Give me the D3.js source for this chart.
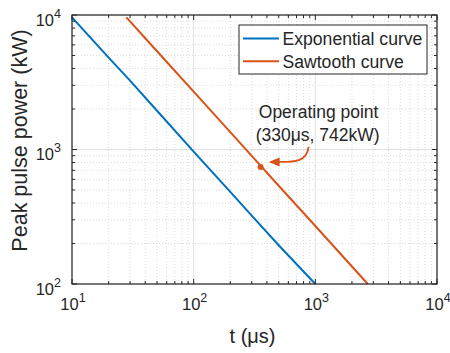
<!DOCTYPE html>
<html>
<head>
<meta charset="utf-8">
<script src="https://cdn.jsdelivr.net/npm/d3@7"></script>
<style>
  body { margin: 0; background: #fff; }
  text { font-family: "Liberation Sans", Arial, sans-serif; fill: #262626; }
</style>
</head>
<body>
<script>
// data
const expT = [10, 20, 30, 50, 100, 200, 300, 500, 1000];
const expP = [9600, 4820, 3250, 1940, 965, 484, 322, 194, 100];
const sawT = [28, 50, 100, 200, 300, 500, 1000, 2000, 2700];
const sawP = [9600, 5380, 2690, 1345, 897, 538, 270, 135, 100];
const seriesNames = ["Exponential curve", "Sawtooth curve"];
const seriesColors = ["#0072BD", "#D95319"];
const opPoint = { t: 355, p: 742 };
const opLabel = ["Operating point", "(330μs, 742kW)"];

const W = 450, H = 353;
const margin = { top: 15, right: 13, bottom: 69, left: 72 },
  width = W - margin.left - margin.right,
  height = H - margin.top - margin.bottom;

const svg = d3.select("body").append("svg")
  .attr("width", W).attr("height", H);

const g = svg.append("g")
  .attr("transform", "translate(" + margin.left + "," + margin.top + ")");

const x = d3.scaleLog().domain([10, 1e4]).range([0, width]);
const y = d3.scaleLog().domain([100, 1e4]).range([height, 0]);

const isMajor = v => Math.abs(Math.log10(v) - Math.round(Math.log10(v))) < 1e-9;
const xTicks = x.ticks(), yTicks = y.ticks();

// grid
g.selectAll(".xminor").data(xTicks.filter(v => !isMajor(v)))
  .enter().append("line")
  .attr("x1", d => x(d)).attr("x2", d => x(d))
  .attr("y1", 0).attr("y2", height)
  .attr("stroke", "#d2d2d2").attr("stroke-width", 0.8).attr("stroke-dasharray", "1,2");
g.selectAll(".yminor").data(yTicks.filter(v => !isMajor(v)))
  .enter().append("line")
  .attr("y1", d => y(d)).attr("y2", d => y(d))
  .attr("x1", 0).attr("x2", width)
  .attr("stroke", "#d2d2d2").attr("stroke-width", 0.8).attr("stroke-dasharray", "1,2");
g.selectAll(".xmajor").data(xTicks.filter(isMajor))
  .enter().append("line")
  .attr("x1", d => x(d)).attr("x2", d => x(d))
  .attr("y1", 0).attr("y2", height)
  .attr("stroke", "#e0e0e0").attr("stroke-width", 1);
g.selectAll(".ymajor").data(yTicks.filter(isMajor))
  .enter().append("line")
  .attr("y1", d => y(d)).attr("y2", d => y(d))
  .attr("x1", 0).attr("x2", width)
  .attr("stroke", "#e0e0e0").attr("stroke-width", 1);

// curves
const line = d3.line().x(d => x(d[0])).y(d => y(d[1]));
const series = [d3.zip(expT, expP), d3.zip(sawT, sawP)];
g.selectAll(".curve").data(series)
  .enter().append("path")
  .attr("d", line)
  .attr("fill", "none")
  .attr("stroke", (d, i) => seriesColors[i])
  .attr("stroke-width", 2);

// axes box with inward ticks
const tickLen = v => isMajor(v) ? 5 : 3;
const axisCol = "#262626";
g.append("rect").attr("width", width).attr("height", height)
  .attr("fill", "none").attr("stroke", axisCol).attr("stroke-width", 1.2);
xTicks.forEach(v => {
  g.append("line").attr("x1", x(v)).attr("x2", x(v)).attr("y1", height).attr("y2", height - tickLen(v))
    .attr("stroke", axisCol).attr("stroke-width", 1);
  g.append("line").attr("x1", x(v)).attr("x2", x(v)).attr("y1", 0).attr("y2", tickLen(v))
    .attr("stroke", axisCol).attr("stroke-width", 1);
});
yTicks.forEach(v => {
  g.append("line").attr("y1", y(v)).attr("y2", y(v)).attr("x1", 0).attr("x2", tickLen(v))
    .attr("stroke", axisCol).attr("stroke-width", 1);
  g.append("line").attr("y1", y(v)).attr("y2", y(v)).attr("x1", width).attr("x2", width - tickLen(v))
    .attr("stroke", axisCol).attr("stroke-width", 1);
});

// tick labels 10^n
function powLabel(sel, v) {
  sel.append("tspan").text("10");
  sel.append("tspan").attr("dy", -8).attr("font-size", 12.5).text(Math.round(Math.log10(v)));
}
xTicks.filter(isMajor).forEach(v => {
  const t = g.append("text").attr("x", x(v) + 1).attr("y", height + 26)
    .attr("text-anchor", "middle").attr("font-size", 16.5);
  powLabel(t, v);
});
yTicks.filter(isMajor).forEach(v => {
  const t = g.append("text").attr("x", -11).attr("y", y(v) + 10.5)
    .attr("text-anchor", "end").attr("font-size", 16.5);
  powLabel(t, v);
});

// axis titles
g.append("text").attr("x", width / 2 - 2).attr("y", height + 59)
  .attr("text-anchor", "middle").attr("font-size", 20).text("t (μs)");
g.append("text")
  .attr("transform", "translate(" + (-45.5) + "," + (height / 2 - 9) + ") rotate(-90)")
  .attr("text-anchor", "middle").attr("font-size", 21.5).text("Peak pulse power (kW)");

// legend
const lg = g.append("g").attr("transform", "translate(" + (239 - margin.left) + "," + (25 - margin.top) + ")");
lg.append("rect").attr("width", 188).attr("height", 49)
  .attr("fill", "#fff").attr("stroke", axisCol).attr("stroke-width", 1);
seriesNames.forEach((name, i) => {
  const ly = 13.5 + i * 22.7;
  lg.append("line").attr("x1", 4).attr("x2", 40).attr("y1", ly).attr("y2", ly)
    .attr("stroke", seriesColors[i]).attr("stroke-width", 2);
  lg.append("text").attr("x", 43.5).attr("y", ly + 6.3).attr("font-size", 17.6).text(name);
});

// operating point
const px = x(opPoint.t), py = y(opPoint.p);
g.append("circle").attr("cx", px).attr("cy", py).attr("r", 3).attr("fill", seriesColors[1]);
const ax0 = px + 48, ay0 = py - 20, tipX = px + 8, tipY = py - 5;
g.append("path")
  .attr("d", "M" + ax0 + "," + ay0 + " C" + (ax0 - 2) + "," + (tipY + 1) + " " + (tipX + 24) + "," + tipY + " " + (tipX + 9) + "," + tipY)
  .attr("fill", "none").attr("stroke", seriesColors[1]).attr("stroke-width", 1.8);
g.append("path")
  .attr("d", "M" + tipX + "," + tipY + " L" + (tipX + 11) + "," + (tipY - 4.5) + " L" + (tipX + 11) + "," + (tipY + 4.5) + "Z")
  .attr("fill", seriesColors[1]);
g.append("text").attr("x", px + 58).attr("y", py - 49)
  .attr("text-anchor", "middle").attr("font-size", 17.5).text(opLabel[0]);
g.append("text").attr("x", px + 57).attr("y", py - 26)
  .attr("text-anchor", "middle").attr("font-size", 17.5).text(opLabel[1]);
</script>
</body>
</html>
